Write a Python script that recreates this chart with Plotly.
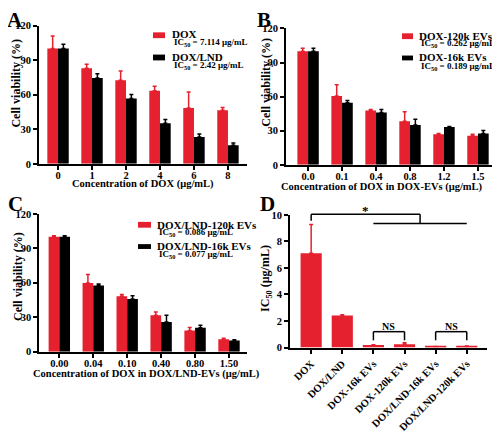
import plotly.graph_objects as go

# ---------------- data ----------------
a_cats = ["0", "1", "2", "4", "6", "8"]
a_dox = [100, 83, 72.5, 63.5, 48.5, 46.5]
a_dox_sd = [11, 3.5, 8, 3.8, 13.8, 2.5]
a_lnd = [100, 74.5, 56.7, 35.2, 23.2, 16.2]
a_lnd_sd = [3.8, 3.7, 3.5, 3.3, 2.8, 2.0]

b_cats = ["0.0", "0.1", "0.4", "0.8", "1.2", "1.5"]
b_120k = [100, 60.5, 47.8, 38.3, 27, 25.5]
b_120k_sd = [2.5, 10, 0.8, 8.5, 0.6, 1.3]
b_16k = [100, 54.7, 46, 35, 33.2, 27.5]
b_16k_sd = [2.5, 2, 2.7, 5, 0.6, 2.7]

c_cats = ["0.00", "0.04", "0.10", "0.40", "0.80", "1.50"]
c_120k = [100, 59.8, 48.4, 31.8, 18.6, 10.9]
c_120k_sd = [0.9, 7.4, 1.5, 2.8, 2.6, 0.9]
c_16k = [100, 57.6, 46, 26, 21, 9.8]
c_16k_sd = [0.9, 1.3, 2.7, 5.7, 2.0, 0.6]

d_cats = ["DOX", "DOX/LND", "DOX-16k EVs", "DOX-120k EVs", "DOX/LND-16k EVs", "DOX/LND-120k EVs"]
d_ic50 = [7.114, 2.42, 0.189, 0.262, 0.077, 0.086]
d_sd = [2.15, 0.05, 0.03, 0.1, 0.015, 0.035]

RED = "#E5202F"
BLACK = "#000000"
FONT = "Liberation Serif"
OFF = 8  # page body margin
W, H = 500 - OFF, 433 - OFF


def px(x):
    return (x - OFF) / W


def py(y):
    return 1 - (y - OFF) / H


def bar(x, y, sd, color, ax, width=None):
    return go.Bar(
        x=x, y=y, marker=dict(color=color, line=dict(width=0)),
        width=width,
        error_y=dict(type="data", array=sd, arrayminus=[0] * len(sd), symmetric=False,
                     color=color, thickness=1.5, width=2),
        xaxis="x" + ax, yaxis="y" + ax, showlegend=False,
    )


fig = go.Figure()
fig.add_trace(bar(a_cats, a_dox, a_dox_sd, RED, ""))
fig.add_trace(bar(a_cats, a_lnd, a_lnd_sd, BLACK, ""))
fig.add_trace(bar(b_cats, b_120k, b_120k_sd, RED, "2"))
fig.add_trace(bar(b_cats, b_16k, b_16k_sd, BLACK, "2"))
fig.add_trace(bar(c_cats, c_120k, c_120k_sd, RED, "3"))
fig.add_trace(bar(c_cats, c_16k, c_16k_sd, BLACK, "3"))
fig.add_trace(bar(d_cats, d_ic50, d_sd, RED, "4", width=0.68))

tickfont = dict(family=FONT, size=10.5, color="black", weight="bold")
axcommon = dict(showline=True, linewidth=1.8, linecolor="black", ticks="outside",
                ticklen=4, tickwidth=1.5, tickcolor="black", showgrid=False,
                zeroline=False, tickfont=tickfont, fixedrange=True)

layout = dict(
    width=W, height=H, margin=dict(l=0, r=0, t=0, b=0),
    paper_bgcolor="white", plot_bgcolor="white",
    barmode="group", bargap=0.37, bargroupgap=0,
    showlegend=False,
)
layout["xaxis"] = dict(axcommon, domain=[px(39), px(247)], anchor="y", range=[-0.56, 5.56], type="category",
                       ticklabelstandoff=-3)
layout["yaxis"] = dict(axcommon, domain=[py(164), py(21)], anchor="x", range=[0, 120], tickvals=[0, 30, 60, 90, 120])
layout["xaxis2"] = dict(axcommon, domain=[px(286), px(497)], anchor="y2", range=[-0.65, 5.56], type="category",
                        ticklabelstandoff=-3)
layout["yaxis2"] = dict(axcommon, domain=[py(165), py(24)], anchor="x2", range=[0, 120], tickvals=[0, 30, 60, 90, 120])
layout["xaxis3"] = dict(axcommon, domain=[px(39.3), px(247)], anchor="y3", range=[-0.59, 5.53], type="category",
                        ticklabelstandoff=-3)
layout["yaxis3"] = dict(axcommon, domain=[py(358.3), py(215.7)], anchor="x3", range=[0, 120], tickvals=[0, 30, 60, 90, 120])
layout["xaxis4"] = dict(axcommon, domain=[px(290), px(487)], anchor="y4", range=[-0.68, 5.65], type="category",
                        tickangle=-45, tickfont=dict(tickfont, size=10.5))
layout["yaxis4"] = dict(axcommon, domain=[py(354), py(216.7)], anchor="x4", range=[0, 10], tickvals=[0, 2, 4, 6, 8, 10])
fig.update_layout(**layout)

annotations = []
shapes = []


def text(x, y, s, size, anchor="center", angle=0):
    annotations.append(dict(x=px(x), y=py(y), xref="paper", yref="paper", text=s, showarrow=False,
                            xanchor=anchor, yanchor="middle", textangle=angle,
                            font=dict(family=FONT, size=size, color="black", weight="bold")))


# panel letters
text(5, 15, "A", 21, "left")
text(255, 15, "B", 21, "left")
text(6, 206, "C", 21, "left")
text(258, 206, "D", 21, "left")

# axis titles
text(143, 185, "Concentration of DOX (μg/mL)", 10.5)
text(382, 188, "Concentration of DOX in DOX-EVs (μg/mL)", 10.5)
text(146, 381, "Concentration of DOX in DOX/LND-EVs (μg/mL)", 10.5)
text(16, 81, "Cell viability (%)", 12, angle=-90)
text(266, 80, "Cell viability (%)", 12, angle=-90)
text(18, 281, "Cell viability (%)", 12, angle=-90)
text(266, 283, "IC<sub>50</sub> (μg/mL)", 12, angle=-90)

# legends
legends = [
    (153, 165, 28, 34, RED, 170, 30, "DOX", 172, 39, "IC<sub>50</sub> = 7.114 μg/mL"),
    (153, 165, 51, 57, BLACK, 170, 53, "DOX/LND", 172, 62, "IC<sub>50</sub> = 2.42 μg/mL"),
    (402, 413, 29, 35, RED, 417, 32, "DOX-120k EVs", 419, 40, "IC<sub>50</sub> = 0.262 μg/mL"),
    (402, 413, 52, 57, BLACK, 417, 54, "DOX-16k EVs", 419, 63, "IC<sub>50</sub> = 0.189 μg/mL"),
    (138, 151, 224, 230, RED, 155, 227, "DOX/LND-120k EVs", 157, 235, "IC<sub>50</sub> = 0.086 μg/mL"),
    (138, 151, 247, 252, BLACK, 155, 249, "DOX/LND-16k EVs", 157, 258, "IC<sub>50</sub> = 0.077 μg/mL"),
]
for x0, x1, y0, y1, col, tx, ty, name, ix, iy, ic in legends:
    shapes.append(dict(type="rect", xref="paper", yref="paper", x0=px(x0), x1=px(x1), y0=py(y1), y1=py(y0),
                       fillcolor=col, line=dict(width=0)))
    text(tx, ty, name, 11, "left")
    text(ix, iy, ic, 9, "left")

# significance brackets in panel D (domain coords derived from the data scale)
r0, r1 = layout["xaxis4"]["range"]
ymax = layout["yaxis4"]["range"][1]


def dx(i):
    return (i - r0) / (r1 - r0)


def dy(v):
    return v / ymax


def seg(xa, ya, xb, yb):
    shapes.append(dict(type="line", xref="x4 domain", yref="y4 domain",
                       x0=dx(xa), y0=dy(ya), x1=dx(xb), y1=dy(yb),
                       line=dict(color="black", width=1.5)))


seg(0, 10.05, 3.5, 10.05)
seg(0, 10.05, 0, 9.55)
seg(3.5, 10.05, 3.5, 9.34)
seg(2, 9.34, 5, 9.34)
annotations.append(dict(x=dx(1.75), y=dy(10.3), xref="x4 domain", yref="y4 domain", text="*",
                        showarrow=False, xanchor="center", yanchor="middle",
                        font=dict(family=FONT, size=13, color="black", weight="bold")))
for a, b in [(2, 3), (4, 5)]:
    seg(a, 1.2, b, 1.2)
    seg(a, 1.2, a, 0.55)
    seg(b, 1.2, b, 0.55)
    annotations.append(dict(x=dx((a + b) / 2), y=dy(1.6), xref="x4 domain", yref="y4 domain", text="NS",
                            showarrow=False, xanchor="center", yanchor="middle",
                            font=dict(family=FONT, size=10, color="black", weight="bold")))

fig.update_layout(annotations=annotations, shapes=shapes)
fig.write_html("out.html")
